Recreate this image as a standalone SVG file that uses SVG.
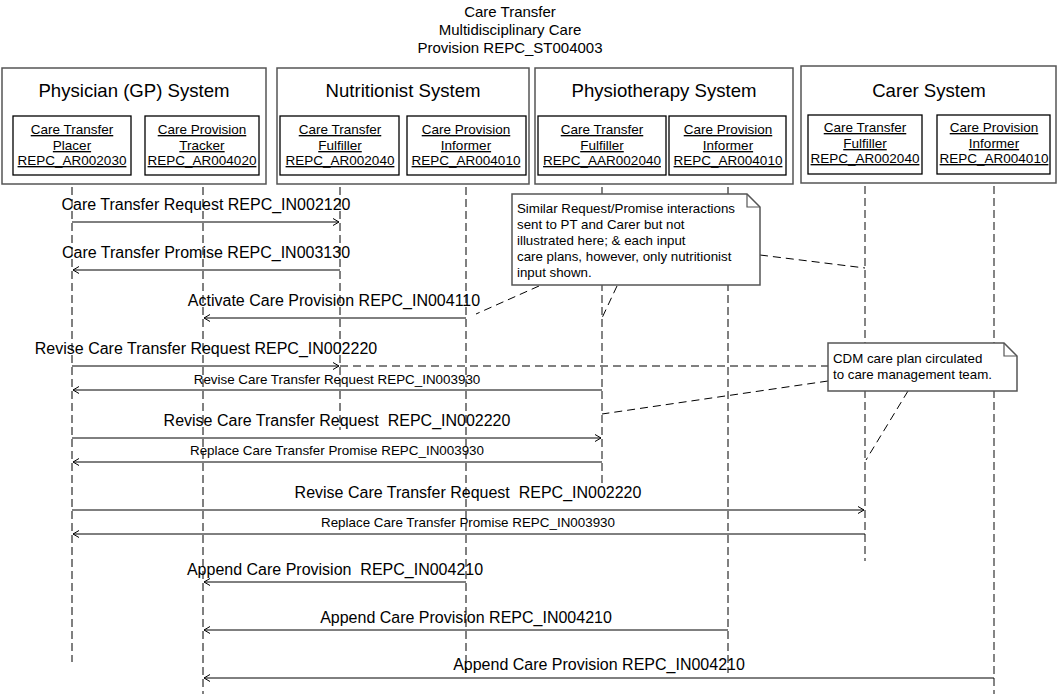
<svg xmlns="http://www.w3.org/2000/svg" width="1060" height="694" viewBox="0 0 1060 694">
<style>
text{font-family:"Liberation Sans",Arial,sans-serif;fill:#000}
.title{font-size:15px;text-anchor:middle}
.sys{font-size:18.6px;text-anchor:middle}
.role{font-size:13.5px;text-anchor:middle;text-decoration:underline}
.big{font-size:16px;text-anchor:middle}
.small{font-size:13.4px;text-anchor:middle}
.note{font-size:13.3px}
.outer{fill:#fff;stroke:#555;stroke-width:1.5}
.inner{fill:#fff;stroke:#000;stroke-width:1.3}
.life{stroke:#000;stroke-width:1;stroke-dasharray:8 4;fill:none}
.lifeg{stroke:#666;stroke-width:1.6;stroke-dasharray:8 4;fill:none}
.msg{stroke:#000;stroke-width:1;fill:none;marker-end:url(#ah)}
.link{stroke:#000;stroke-width:1;stroke-dasharray:8 5;fill:none}
.nbox{fill:#fff;stroke:#555;stroke-width:1.5}
</style>
<defs>
<marker id="ah" markerWidth="10" markerHeight="10" refX="6" refY="4" orient="auto" markerUnits="userSpaceOnUse">
<path d="M0,0.5 L6,4 L0,7.5" fill="none" stroke="#000" stroke-width="1"/>
</marker>
</defs>
<rect width="1060" height="694" fill="#fff"/>
<g id="title">
<text class="title" x="510" y="17">Care Transfer</text>
<text class="title" x="510" y="35">Multidisciplinary Care</text>
<text class="title" x="510" y="53">Provision REPC_ST004003</text>
</g>
<g id="lifelines">
<line class="life" x1="72" y1="175" x2="72" y2="662"/>
<line class="life" x1="203" y1="175" x2="203" y2="694"/>
<line class="life" x1="340" y1="175" x2="340" y2="430"/>
<line class="life" x1="466" y1="175" x2="466" y2="673"/>
<line class="lifeg" x1="602" y1="175" x2="602" y2="486"/>
<line class="life" x1="728" y1="175" x2="728" y2="673"/>
<line class="lifeg" x1="865" y1="174" x2="865" y2="561"/>
<line class="lifeg" x1="994" y1="174" x2="994" y2="694"/>
</g>
<g id="physician">
<rect class="outer" x="2" y="68" width="264" height="116"/>
<text class="sys" x="134" y="97">Physician (GP) System</text>
<rect class="inner" x="13" y="116" width="118" height="59"/>
<text class="role" x="72" y="134">Care Transfer</text>
<text class="role" x="72" y="150">Placer</text>
<text class="role" x="72" y="165">REPC_AR002030</text>
<rect class="inner" x="145" y="116" width="114" height="59"/>
<text class="role" x="202" y="134">Care Provision</text>
<text class="role" x="202" y="150">Tracker</text>
<text class="role" x="202" y="165">REPC_AR004020</text>
</g>
<g id="nutritionist">
<rect class="outer" x="277" y="68" width="252" height="116"/>
<text class="sys" x="403" y="97">Nutritionist System</text>
<rect class="inner" x="280" y="116" width="119" height="59"/>
<text class="role" x="340" y="134">Care Transfer</text>
<text class="role" x="340" y="150">Fulfiller</text>
<text class="role" x="340" y="165">REPC_AR002040</text>
<rect class="inner" x="407" y="116" width="119" height="59"/>
<text class="role" x="466" y="134">Care Provision</text>
<text class="role" x="466" y="150">Informer</text>
<text class="role" x="466" y="165">REPC_AR004010</text>
</g>
<g id="physiotherapy">
<rect class="outer" x="535" y="68" width="258" height="116"/>
<text class="sys" x="664" y="97">Physiotherapy System</text>
<rect class="inner" x="538" y="116" width="128" height="59"/>
<text class="role" x="602" y="134">Care Transfer</text>
<text class="role" x="602" y="150">Fulfiller</text>
<text class="role" x="602" y="165">REPC_AAR002040</text>
<rect class="inner" x="669" y="116" width="117" height="59"/>
<text class="role" x="728" y="134">Care Provision</text>
<text class="role" x="728" y="150">Informer</text>
<text class="role" x="728" y="165">REPC_AR004010</text>
</g>
<g id="carer">
<rect class="outer" x="801" y="66" width="255" height="117"/>
<text class="sys" x="929" y="97">Carer System</text>
<rect class="inner" x="808" y="115" width="114" height="59"/>
<text class="role" x="865" y="132">Care Transfer</text>
<text class="role" x="865" y="148">Fulfiller</text>
<text class="role" x="865" y="163">REPC_AR002040</text>
<rect class="inner" x="937" y="115" width="113" height="59"/>
<text class="role" x="994" y="132">Care Provision</text>
<text class="role" x="994" y="148">Informer</text>
<text class="role" x="994" y="163">REPC_AR004010</text>
</g>
<g id="connectors">
<line class="msg" x1="72" y1="222" x2="339" y2="222"/>
<line class="msg" x1="340" y1="270" x2="73" y2="270"/>
<line class="msg" x1="466" y1="318" x2="204" y2="318"/>
<line class="msg" x1="72" y1="366" x2="339" y2="366"/>
<line class="link" x1="340" y1="366" x2="828" y2="366"/>
<line class="msg" x1="602" y1="390" x2="73" y2="390"/>
<line class="msg" x1="72" y1="438" x2="601" y2="438"/>
<line class="msg" x1="602" y1="462" x2="73" y2="462"/>
<line class="msg" x1="72" y1="510" x2="864" y2="510"/>
<line class="msg" x1="865" y1="534" x2="73" y2="534"/>
<line class="msg" x1="466" y1="582" x2="204" y2="582"/>
<line class="msg" x1="728" y1="630" x2="204" y2="630"/>
<line class="msg" x1="994" y1="678" x2="204" y2="678"/>
<line class="link" x1="539" y1="286" x2="476" y2="314"/>
<line class="link" x1="617" y1="286" x2="602" y2="318"/>
<line class="link" x1="760" y1="255" x2="865" y2="268"/>
<line class="link" x1="828" y1="381" x2="602" y2="414"/>
<line class="link" x1="908" y1="391" x2="866" y2="460"/>
</g>
<g id="labels">
<text class="big" x="206" y="210">Care Transfer Request REPC_IN002120</text>
<text class="big" x="206" y="258">Care Transfer Promise REPC_IN003130</text>
<text class="big" x="334" y="306">Activate Care Provision REPC_IN004110</text>
<text class="big" x="206" y="354">Revise Care Transfer Request REPC_IN002220</text>
<text class="small" x="337" y="384">Revise Care Transfer Request REPC_IN003930</text>
<text class="big" x="337" y="426" xml:space="preserve">Revise Care Transfer Request  REPC_IN002220</text>
<text class="small" x="337" y="455">Replace Care Transfer Promise REPC_IN003930</text>
<text class="big" x="468" y="498" xml:space="preserve">Revise Care Transfer Request  REPC_IN002220</text>
<text class="small" x="468" y="527">Replace Care Transfer Promise REPC_IN003930</text>
<text class="big" x="335" y="575" xml:space="preserve">Append Care Provision  REPC_IN004210</text>
<text class="big" x="466" y="623">Append Care Provision REPC_IN004210</text>
<text class="big" x="599" y="670">Append Care Provision REPC_IN004210</text>
</g>
<g id="note1">
<path class="nbox" d="M512,194 L747,194 L760,207 L760,285 L512,285 Z"/>
<path d="M747,194 L747,207 L760,207" fill="none" stroke="#555" stroke-width="1.2"/>
<text class="note" x="517" y="213">Similar Request/Promise interactions</text>
<text class="note" x="517" y="229">sent to PT and Carer but not</text>
<text class="note" x="517" y="245">illustrated here; &amp; each input</text>
<text class="note" x="517" y="261">care plans, however, only nutritionist</text>
<text class="note" x="517" y="277">input shown.</text>
</g>
<g id="note2">
<path class="nbox" d="M828,343 L1004,343 L1017,356 L1017,391 L828,391 Z"/>
<path d="M1004,343 L1004,356 L1017,356" fill="none" stroke="#555" stroke-width="1.2"/>
<text class="note" x="833" y="363">CDM care plan circulated</text>
<text class="note" x="833" y="379">to care management team.</text>
</g>
</svg>
